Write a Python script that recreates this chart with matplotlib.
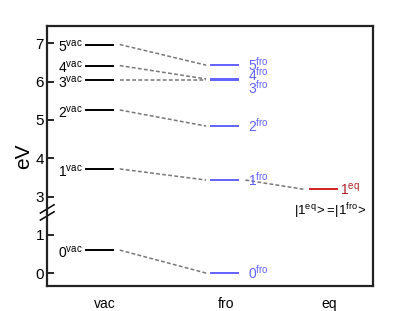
import matplotlib.pyplot as plt
from matplotlib.lines import Line2D

plt.rcParams['font.family'] = ['Liberation Sans', 'DejaVu Sans']
plt.rcParams['mathtext.fontset'] = 'custom'
plt.rcParams['mathtext.rm'] = 'Liberation Sans'

# Data (eV)
categories = ['vac', 'fro', 'eq']
vac_levels = [0.60, 3.72, 5.26, 6.03, 6.42, 6.97]
fro_levels = [0.00, 3.43, 4.84, 6.03, 6.07, 6.43]
eq_levels = [3.19]
ytick_values = [0, 1, 3, 4, 5, 6, 7]


def disp(v):
    # broken axis: drop the gap between 1 and 2 eV
    return v if v < 2 else v - 1


blue = '#6262ff'
red = '#d02020'
gray = '#777777'

fig = plt.figure(figsize=(4.15, 3.11), dpi=100)
ax = fig.add_axes([0.113, 0.080, 0.786, 0.836])

x_vac, x_fro, x_eq = 0.985, 2.13, 3.045
hw = 0.125

# levels
for v in vac_levels:
    ax.plot([x_vac - hw, x_vac + hw], [disp(v)] * 2, color='black', lw=1.4)
for v in fro_levels:
    ax.plot([x_fro - hw, x_fro + hw], [disp(v)] * 2, color=blue, lw=1.4)
for v in eq_levels:
    ax.plot([x_eq - hw, x_eq + hw], [disp(v)] * 2, color=red, lw=1.4)

# connectors
for a, b in zip(vac_levels, fro_levels):
    ax.plot([x_vac + hw + 0.06, x_fro - hw - 0.04], [disp(a), disp(b)],
            color=gray, lw=1.1, ls=(0, (2.5, 1.5)))
ax.plot([x_fro + hw + 0.07, x_eq - hw - 0.06], [disp(fro_levels[1]), disp(eq_levels[0])],
        color=gray, lw=1.1, ls=(0, (2.5, 1.5)))

# labels
for i, v in enumerate(vac_levels):
    ax.text(x_vac - hw - 0.03, disp(v) - 0.06, r'$\mathregular{%d^{vac}}$' % i,
            ha='right', va='center', fontsize=10)
fro_offsets = [0, 0, 0, -0.2, 0.11, 0.02]
for i, v in enumerate(fro_levels):
    ax.text(x_fro + hw + 0.09, disp(v) + fro_offsets[i], r'$\mathregular{%d^{fro}}$' % i,
            ha='left', va='center', fontsize=10, color=blue)
ax.text(x_eq + hw + 0.03, disp(eq_levels[0]), r'$\mathregular{1^{eq}}$',
        ha='left', va='center', fontsize=10, color='#b02020')
ax.text(x_eq + 0.06, disp(eq_levels[0]) - 0.58,
        r'$\mathregular{|1^{eq}\!>\!=\!|1^{fro}\!>}$',
        ha='center', va='center', fontsize=9.5)

ax.set_xlim(0.5, 3.5)
ax.set_ylim(-0.34, 6.45)
ax.set_xticks([1.035, 2.15, 3.1])
ax.set_xticklabels(categories, fontsize=10)
ax.set_yticks([disp(v) for v in ytick_values])
ax.set_yticklabels([str(v) for v in ytick_values], fontsize=11)
ax.tick_params(axis='y', direction='in', length=5, width=1.2, pad=2)
ax.tick_params(axis='x', length=0, pad=8)
ax.set_ylabel('eV', fontsize=15, labelpad=2)
for s in ax.spines.values():
    s.set_linewidth(1.6)
    s.set_color('#222222')

# break marks
for y0 in (0.281, 0.254):
    ax.add_line(Line2D([-0.02, 0.022], [y0, y0 + 0.032], transform=ax.transAxes,
                       color='black', lw=1.1, clip_on=False))

fig.savefig('out.png', dpi=100)
